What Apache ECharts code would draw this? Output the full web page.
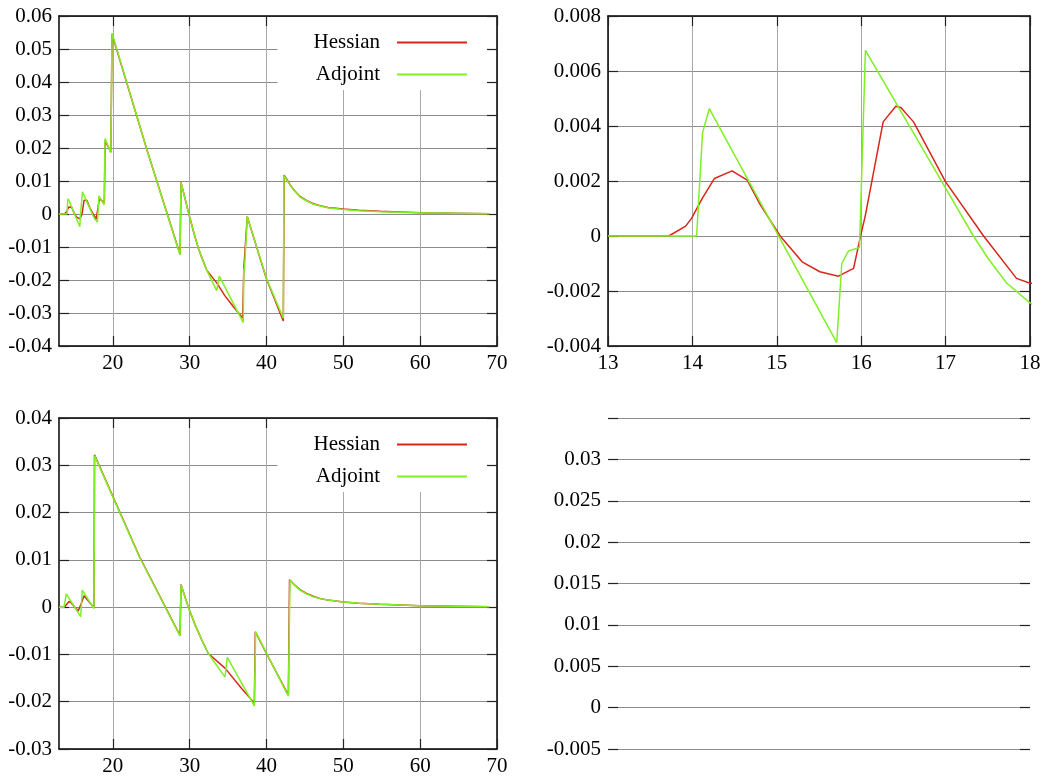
<!DOCTYPE html>
<html>
<head>
<meta charset="utf-8">
<script src="https://cdn.jsdelivr.net/npm/echarts@6/dist/echarts.min.js"></script>
<style>
  html, body { margin: 0; padding: 0; background: #fff; }
  #chart { width: 1043px; height: 778px; }
</style>
</head>
<body>
<div id="chart"></div>
<script>
// top row: full run (left) and a zoom on t = 13..18 of the same run (right)
const hessX_A = [13, 13.72, 13.92, 13.99, 14.12, 14.26, 14.47, 14.65, 14.8, 15.04, 15.3, 15.51, 15.73, 15.91, 15.99, 16.05, 16.26, 16.41, 16.47, 16.62, 17.0, 17.45, 17.84, 18.0, 18.1, 18.25, 18.9, 19.0, 19.75, 19.9, 24.5, 28.75, 28.88, 29.9, 30.5, 31.13, 31.7, 32.22, 33.5, 34.6, 35.7, 36.9, 37.05, 37.5, 40.0, 42.19, 42.3, 42.7, 43.06, 43.6, 44.36, 45.2, 46.1, 47, 48, 50, 52, 54.8, 60, 69];
const hessY_A = [0, 0, 0.00036, 0.00064, 0.00139, 0.00209, 0.00237, 0.00203, 0.00116, 0, -0.00094, -0.0013, -0.00146, -0.00118, -0.00003, 0.00076, 0.00415, 0.00472, 0.00467, 0.00415, 0.00197, 0, -0.00154, -0.00172, -0.0017, 0.0046, 0.0035, 0.0222, 0.0188, 0.0545, 0.019, -0.0122, 0.0096, 0, -0.0053, -0.0104, -0.0139, -0.017, -0.0208, -0.0248, -0.0281, -0.0315, -0.0165, -0.0008, -0.0197, -0.0324, 0.0118, 0.0103, 0.0089, 0.0072, 0.0053, 0.0041, 0.0031, 0.0025, 0.002, 0.0015, 0.0011, 0.0008, 0.0004, 0.0001];
const adjX_A = [13, 14.05, 14.12, 14.2, 15.71, 15.77, 15.85, 15.98, 16.05, 17.0, 17.33, 17.5, 17.72, 18.0, 18.08, 18.2, 18.87, 18.99, 19.75, 19.9, 24.5, 28.75, 28.88, 29.9, 30.5, 31.13, 31.7, 32.22, 33.52, 33.86, 36.98, 37.05, 37.12, 37.18, 37.5, 40.0, 42.19, 42.28, 42.7, 43.06, 43.6, 44.36, 45.2, 46.1, 47, 48, 50, 52, 54.8, 60, 69];
const adjY_A = [0, 0, 0.00375, 0.00463, -0.00388, -0.001, -0.00054, -0.00042, 0.00675, 0.00174, 0, -0.0008, -0.0017, -0.00243, -0.0026, 0.0055, 0.0028, 0.0229, 0.0186, 0.0548, 0.019, -0.0124, 0.0095, 0, -0.0053, -0.0104, -0.0139, -0.017, -0.0232, -0.0188, -0.0329, -0.0165, -0.0172, -0.015, -0.0008, -0.0195, -0.0316, 0.0116, 0.0101, 0.0088, 0.0071, 0.0052, 0.004, 0.003, 0.0024, 0.0019, 0.0014, 0.001, 0.0007, 0.0004, 0.0001];

// bottom left: second run
const hessX_B = [13, 13.7, 14.3, 14.6, 15.5, 15.7, 16.0, 16.25, 16.5, 17.55, 17.62, 23.5, 28.75, 28.88, 29.83, 30.7, 31.57, 32.43, 34.6, 36.77, 38.42, 38.55, 40.0, 42.85, 43.0, 43.6, 44.36, 45.2, 46.1, 47, 48, 50, 52, 54.8, 60, 69];
const hessY_B = [0, 0, 0.0012, 0.0009, -0.0008, -0.0007, 0.0012, 0.0024, 0.002, -0.0001, 0.0322, 0.0106, -0.006, 0.0048, 0, -0.0037, -0.0069, -0.0098, -0.0129, -0.0172, -0.0203, -0.0052, -0.0098, -0.0186, 0.0058, 0.0048, 0.0037, 0.0029, 0.0023, 0.0018, 0.0015, 0.0011, 0.0008, 0.0006, 0.0003, 0.0001];
const adjX_B = [13, 13.65, 13.95, 15.82, 16.03, 17.55, 17.64, 23.5, 28.75, 28.88, 29.83, 30.7, 31.57, 32.43, 34.6, 34.9, 38.42, 38.6, 40.0, 42.85, 43.06, 43.6, 44.36, 45.2, 46.1, 47, 48, 50, 52, 54.8, 60, 69];
const adjY_B = [0, 0, 0.0028, -0.002, 0.0036, -0.0003, 0.032, 0.0105, -0.0061, 0.0047, 0, -0.0037, -0.0069, -0.0098, -0.0148, -0.0106, -0.0209, -0.0052, -0.0097, -0.0188, 0.0057, 0.0047, 0.0036, 0.0028, 0.0022, 0.0018, 0.0015, 0.0011, 0.0008, 0.0006, 0.0003, 0.0001];

// axes
const xRangeFull = [13, 70];
const xTicksFull = [20, 30, 40, 50, 60, 70];
const xRangeZoom = [13, 18];
const xTicksZoom = [13, 14, 15, 16, 17, 18];
const yTicksA = [-0.04, -0.03, -0.02, -0.01, 0, 0.01, 0.02, 0.03, 0.04, 0.05, 0.06];
const yLabelsA = ['-0.04', '-0.03', '-0.02', '-0.01', '0', '0.01', '0.02', '0.03', '0.04', '0.05', '0.06'];
const yTicksZoom = [-0.004, -0.002, 0, 0.002, 0.004, 0.006, 0.008];
const yLabelsZoom = ['-0.004', '-0.002', '0', '0.002', '0.004', '0.006', '0.008'];
const yTicksB = [-0.03, -0.02, -0.01, 0, 0.01, 0.02, 0.03, 0.04];
const yLabelsB = ['-0.03', '-0.02', '-0.01', '0', '0.01', '0.02', '0.03', '0.04'];
const yTicksEmpty = [-0.005, 0, 0.005, 0.01, 0.015, 0.02, 0.025, 0.03, 0.035];
const yLabelsEmpty = ['-0.005', '0', '0.005', '0.01', '0.015', '0.02', '0.025', '0.03', ''];

const seriesNames = ['Hessian', 'Adjoint'];
const seriesColors = ['#d8261a', '#7ff022'];

const FONT = '"Liberation Serif", "DejaVu Serif", serif';
const pair = (xs, ys) => xs.map((x, i) => [x, ys[i]]);
const labelOf = (ticks, labels) => (v) => {
  const i = ticks.findIndex((t) => Math.abs(t - v) < 1e-9);
  return i < 0 ? '' : labels[i];
};

const grids = [
  { left: 59, top: 16, width: 438, height: 330 },
  { left: 608, top: 16, width: 422, height: 330 },
  { left: 59, top: 418, width: 438, height: 331 },
  { left: 608, top: 418, width: 422, height: 331 }
].map((g) => ({ ...g, outerBoundsMode: 'none', containLabel: false }));

const xAxis = [];
const yAxis = [];

function addAxes(gridIndex, xr, xt, yt, yl, boxed) {
  const line = { show: boxed, onZero: false, lineStyle: { color: '#000', width: 1.5 } };
  const tick = (vals) => ({ show: true, inside: true, length: 10, customValues: vals, lineStyle: { color: '#222', width: 1.2 } });
  const lbl = { fontFamily: FONT, fontSize: 21, color: '#000' };
  // bottom / top
  xAxis.push({
    type: 'value', gridIndex, position: 'bottom', min: xr[0], max: xr[1], show: boxed,
    axisLine: line, axisTick: tick(xt),
    axisLabel: { ...lbl, margin: 7, customValues: xt, formatter: (v) => String(v) },
    splitLine: { show: boxed, lineStyle: { color: '#a8a8a8', width: 1 } }
  });
  xAxis.push({
    type: 'value', gridIndex, position: 'top', min: xr[0], max: xr[1], show: boxed,
    axisLine: line, axisTick: tick(xt), axisLabel: { show: false }, splitLine: { show: false }
  });
  // left / right
  yAxis.push({
    type: 'value', gridIndex, position: 'left', min: yt[0], max: yt[yt.length - 1],
    axisLine: line, axisTick: tick(yt),
    axisLabel: { ...lbl, margin: 7, customValues: yt, formatter: labelOf(yt, yl) },
    splitLine: { show: true, lineStyle: { color: '#8c8c8c', width: 1 } }
  });
  yAxis.push({
    type: 'value', gridIndex, position: 'right', min: yt[0], max: yt[yt.length - 1],
    axisLine: line, axisTick: tick(yt), axisLabel: { show: false }, splitLine: { show: false }
  });
}

addAxes(0, xRangeFull, xTicksFull, yTicksA, yLabelsA, true);
addAxes(1, xRangeZoom, xTicksZoom, yTicksZoom, yLabelsZoom, true);
addAxes(2, xRangeFull, xTicksFull, yTicksB, yLabelsB, true);
addAxes(3, xRangeFull, xTicksFull, yTicksEmpty, yLabelsEmpty, false);

function mkSeries(panel, name, color, data) {
  return {
    name, type: 'line', xAxisIndex: panel * 2, yAxisIndex: panel * 2,
    data, showSymbol: false, symbol: 'none', clip: true,
    lineStyle: { color, width: 1.5 }, itemStyle: { color },
    animation: false, silent: true
  };
}

const series = [
  mkSeries(0, seriesNames[0], seriesColors[0], pair(hessX_A, hessY_A)),
  mkSeries(0, seriesNames[1], seriesColors[1], pair(adjX_A, adjY_A)),
  mkSeries(1, seriesNames[0], seriesColors[0], pair(hessX_A, hessY_A)),
  mkSeries(1, seriesNames[1], seriesColors[1], pair(adjX_A, adjY_A)),
  mkSeries(2, seriesNames[0], seriesColors[0], pair(hessX_B, hessY_B)),
  mkSeries(2, seriesNames[1], seriesColors[1], pair(adjX_B, adjY_B))
];

function mkLegend(top) {
  return {
    data: seriesNames, orient: 'vertical', align: 'right',
    right: 1043 - 487, top,
    icon: 'rect', itemWidth: 70, itemHeight: 2, itemGap: 11,
    padding: [15, 20, 5, 36],
    backgroundColor: '#fff', selectedMode: false,
    textStyle: { fontFamily: FONT, fontSize: 21, color: '#000', lineHeight: 21, padding: [0, 12, 0, 0] }
  };
}

const chart = echarts.init(document.getElementById('chart'));
chart.setOption({
  animation: false,
  backgroundColor: '#fff',
  grid: grids,
  xAxis, yAxis,
  legend: [mkLegend(17), mkLegend(419)],
  series
});
</script>
</body>
</html>
